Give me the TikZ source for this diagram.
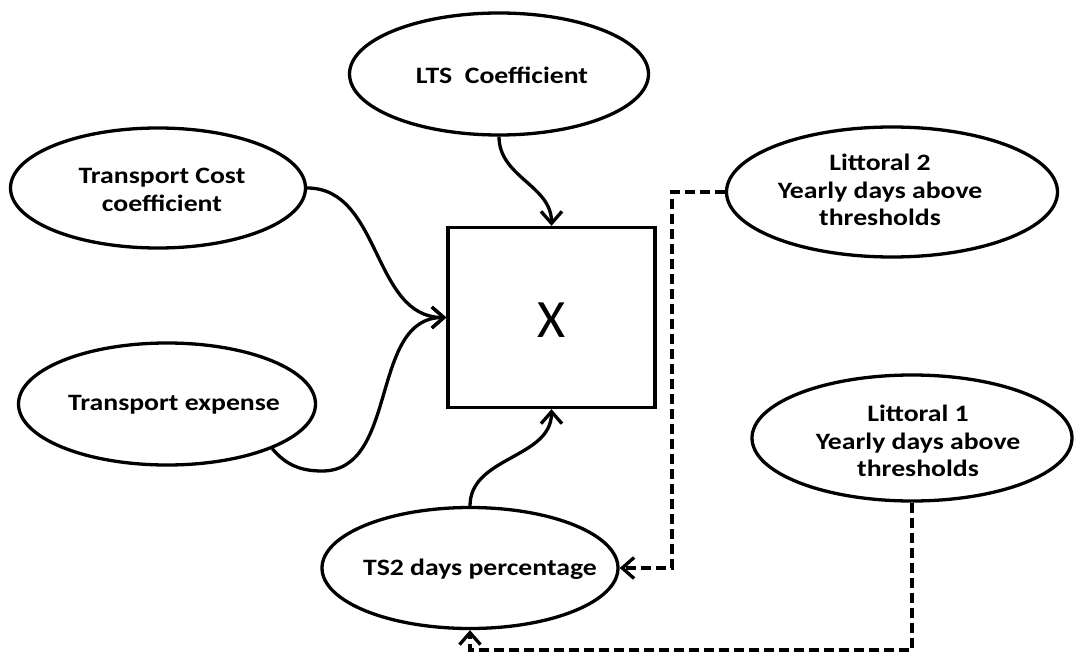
\documentclass[tikz,border=0pt]{standalone}
\usepackage{fontspec}
\setmainfont{Carlito}
\newfontfamily\labfont[FakeStretch=1.18]{Carlito}
\usetikzlibrary{shapes.geometric,arrows.meta}
\begin{document}
\begin{tikzpicture}[x=1pt,y=-1pt,
  ell/.style={draw=black,line width=3.3pt,ellipse,inner sep=0pt},
  lab/.style={font=\labfont\fontsize{23.5}{27.5}\selectfont\bfseries,align=center,inner sep=0pt},
  tip/.style={-{Straight Barb[length=12pt,width=21pt,line width=3.3pt]}},
  arr/.style={line width=3.3pt,tip},
  dsh/.style={line width=3.3pt,dash pattern=on 10pt off 5pt,tip}]
\path[use as bounding box,fill=white] (0,0) rectangle (1075,655);

% nodes
\node[ell,minimum width=299pt,minimum height=122pt] (lts) at (499,74) {};
\node[lab] at (502,75) {LTS\ \ Coefficient};

\node[ell,minimum width=295pt,minimum height=120pt] (tc) at (158,188) {};
\node[lab] at (162,190) {Transport Cost\\ coefficient};

\node[ell,minimum width=297pt,minimum height=122pt] (te) at (167,404) {};
\node[lab] at (174,405) {Transport expense};

\node[draw=black,line width=3.3pt,rectangle,minimum width=207pt,minimum height=180pt,inner sep=0pt] (sq) at (551.5,317.5) {};
\node[font=\fontsize{54}{54}\selectfont,inner sep=0pt] at (552,320) {X};

\node[ell,minimum width=331pt,minimum height=130pt] (l2) at (892,192) {};
\node[lab] at (880,190) {Littoral 2\\ Yearly days above\\ thresholds};

\node[ell,minimum width=320pt,minimum height=126pt] (l1) at (912,438) {};
\node[lab] at (918,441) {Littoral 1\\ Yearly days above\\ thresholds};

\node[ell,minimum width=296pt,minimum height=121pt] (ts2) at (470,568) {};
\node[lab] at (480,569) {TS2 days percentage};

\coordinate (c1) at (672,192);
\coordinate (c2) at (470,650);

% connectors
\draw[arr] (lts.south) to[out=-90,in=90] (sq.north);
\draw[arr] (tc.east) to[out=0,in=180] (sq.west);
\draw[arr] (te.-23) to[out=-50,in=180] (322,471) to[out=0,in=180] (sq.west);
\draw[arr] (ts2.north) to[out=90,in=-90] (sq.south);

\draw[dsh] (l2.west) -- (c1) |- (ts2.east);
\draw[dsh] (l1.south) |- (c2) -- (ts2.south);
\end{tikzpicture}
\end{document}
